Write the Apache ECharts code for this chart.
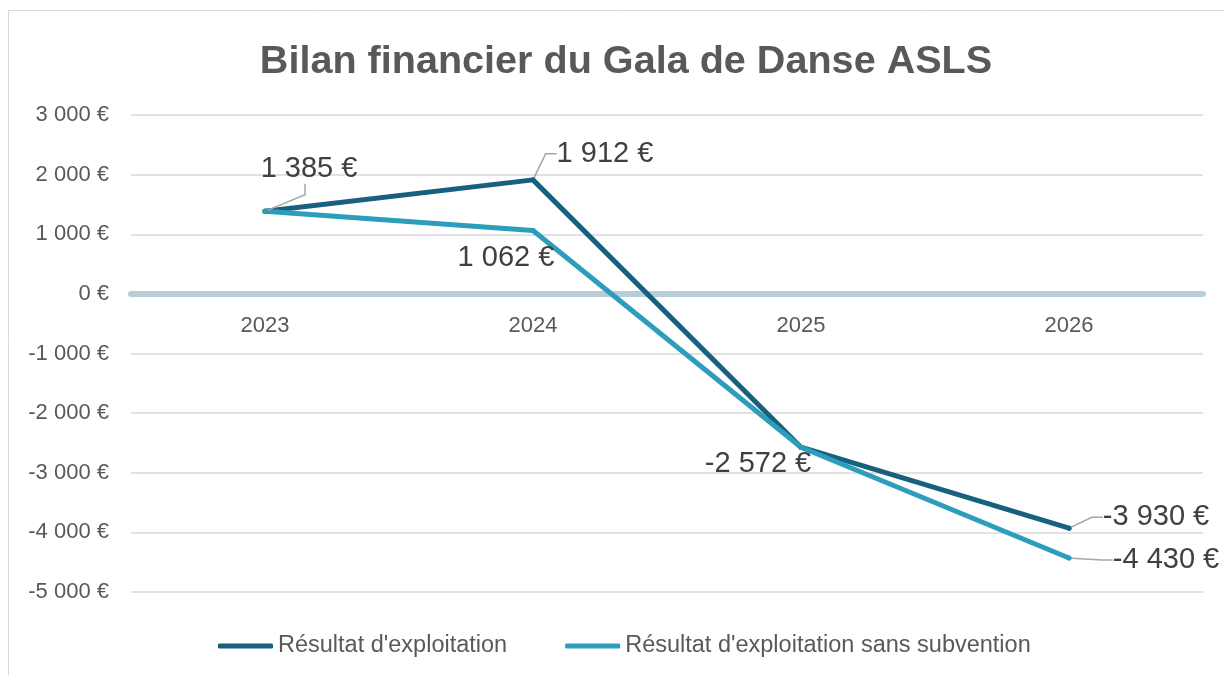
<!DOCTYPE html>
<html>
<head>
<meta charset="utf-8">
<title>Bilan financier du Gala de Danse ASLS</title>
<script src="https://cdn.jsdelivr.net/npm/echarts@6/dist/echarts.min.js"></script>
<style>
  html, body { margin: 0; padding: 0; background: #fff; }
  #chart { width: 1224px; height: 675px; }
</style>
</head>
<body>
<div id="chart"></div>
<script>
// données du graphique
var years = ['2023', '2024', '2025', '2026'];
var resultat = [1385, 1912, -2572, -3930];
var resultatSansSubvention = [1385, 1062, -2572, -4430];
var showLabelsSans = [false, true, false, true];
var yTicks = { min: -5000, max: 3000, interval: 1000 };

// décalage des étiquettes par rapport au point (dx, dy)
var labelOffsets = [
  [[40, -42], [72, -26], [-43, 17], [87, -11]],
  [[0, 0], [-27, 27], [0, 0], [97, 2]]
];
// espace en tête (pour que le trait de rappel parte du bas de l'étiquette)
var labelLead = [
  [' ', '', '', ''],
  ['', '', '', '']
];
var withLeader = [
  [true, true, false, true],
  [false, false, false, true]
];

function euro(v) {
  var s = String(Math.abs(Math.round(v))).replace(/\B(?=(\d{3})+(?!\d))/g, ' ');
  return (v < 0 ? '-' : '') + s + ' €';
}

var FONT = '"Liberation Sans", Arial, sans-serif';

function buildData(values, seriesIdx, shown) {
  return values.map(function (v, i) {
    return {
      value: v,
      label: { show: shown ? shown[i] : true },
      labelLine: { show: withLeader[seriesIdx][i] }
    };
  });
}

function seriesOf(name, values, color, idx, shown) {
  return {
    name: name,
    type: 'line',
    data: buildData(values, idx, shown),
    symbol: 'circle',
    symbolSize: 5,
    itemStyle: { color: color },
    lineStyle: { color: color, width: 5, cap: 'round', join: 'round' },
    label: {
      show: true,
      position: 'inside',
      formatter: function (p) { return labelLead[idx][p.dataIndex] + euro(p.value); },
      fontFamily: FONT,
      fontSize: 29,
      color: '#404040'
    },
    labelLine: {
      show: true,
      length2: 11,
      lineStyle: { color: '#a6a6a6', width: 1.5 }
    },
    labelLayout: function (params) {
      var o = labelOffsets[idx][params.dataIndex];
      return { dx: o[0], dy: o[1] };
    },
    emphasis: { disabled: true }
  };
}

var chart = echarts.init(document.getElementById('chart'));
chart.setOption({
  animation: false,
  backgroundColor: '#fff',
  title: {
    text: 'Bilan financier du Gala de Danse ASLS',
    left: 621,
    textAlign: 'center',
    top: 37,
    textStyle: {
      fontFamily: FONT,
      fontSize: 39.6,
      fontWeight: 'bold',
      color: '#595959'
    }
  },
  graphic: [{
    type: 'rect',
    shape: { x: 8.5, y: 10.5, width: 1240, height: 700 },
    style: { fill: 'none', stroke: '#d9d9d9', lineWidth: 1 },
    silent: true,
    z: -1
  }],
  legend: {
    bottom: 12,
    left: 213,
    itemWidth: 55,
    itemHeight: 5,
    itemGap: 58,
    icon: 'roundRect',
    selectedMode: false,
    textStyle: { fontFamily: FONT, fontSize: 23.5, color: '#595959' },
    data: ["Résultat d'exploitation", "Résultat d'exploitation sans subvention"]
  },
  grid: { left: 131, right: 21, top: 115, bottom: 83 },
  xAxis: {
    type: 'category',
    data: years,
    offset: -298,
    axisLine: { onZero: false, lineStyle: { color: '#b9cdd9', width: 6 } },
    axisTick: { show: false },
    axisLabel: { fontFamily: FONT, fontSize: 22, color: '#595959', margin: 21 }
  },
  yAxis: {
    type: 'value',
    min: yTicks.min,
    max: yTicks.max,
    interval: yTicks.interval,
    axisLine: { show: false },
    axisTick: { show: false },
    splitLine: { lineStyle: { color: '#d9d9d9', width: 1.5 } },
    axisLabel: {
      fontFamily: FONT, fontSize: 22, color: '#595959', margin: 22,
      formatter: euro
    }
  },
  series: [
    seriesOf("Résultat d'exploitation", resultat, '#17617f', 0),
    seriesOf("Résultat d'exploitation sans subvention", resultatSansSubvention, '#2c9dbb', 1, showLabelsSans)
  ]
});
</script>
</body>
</html>
